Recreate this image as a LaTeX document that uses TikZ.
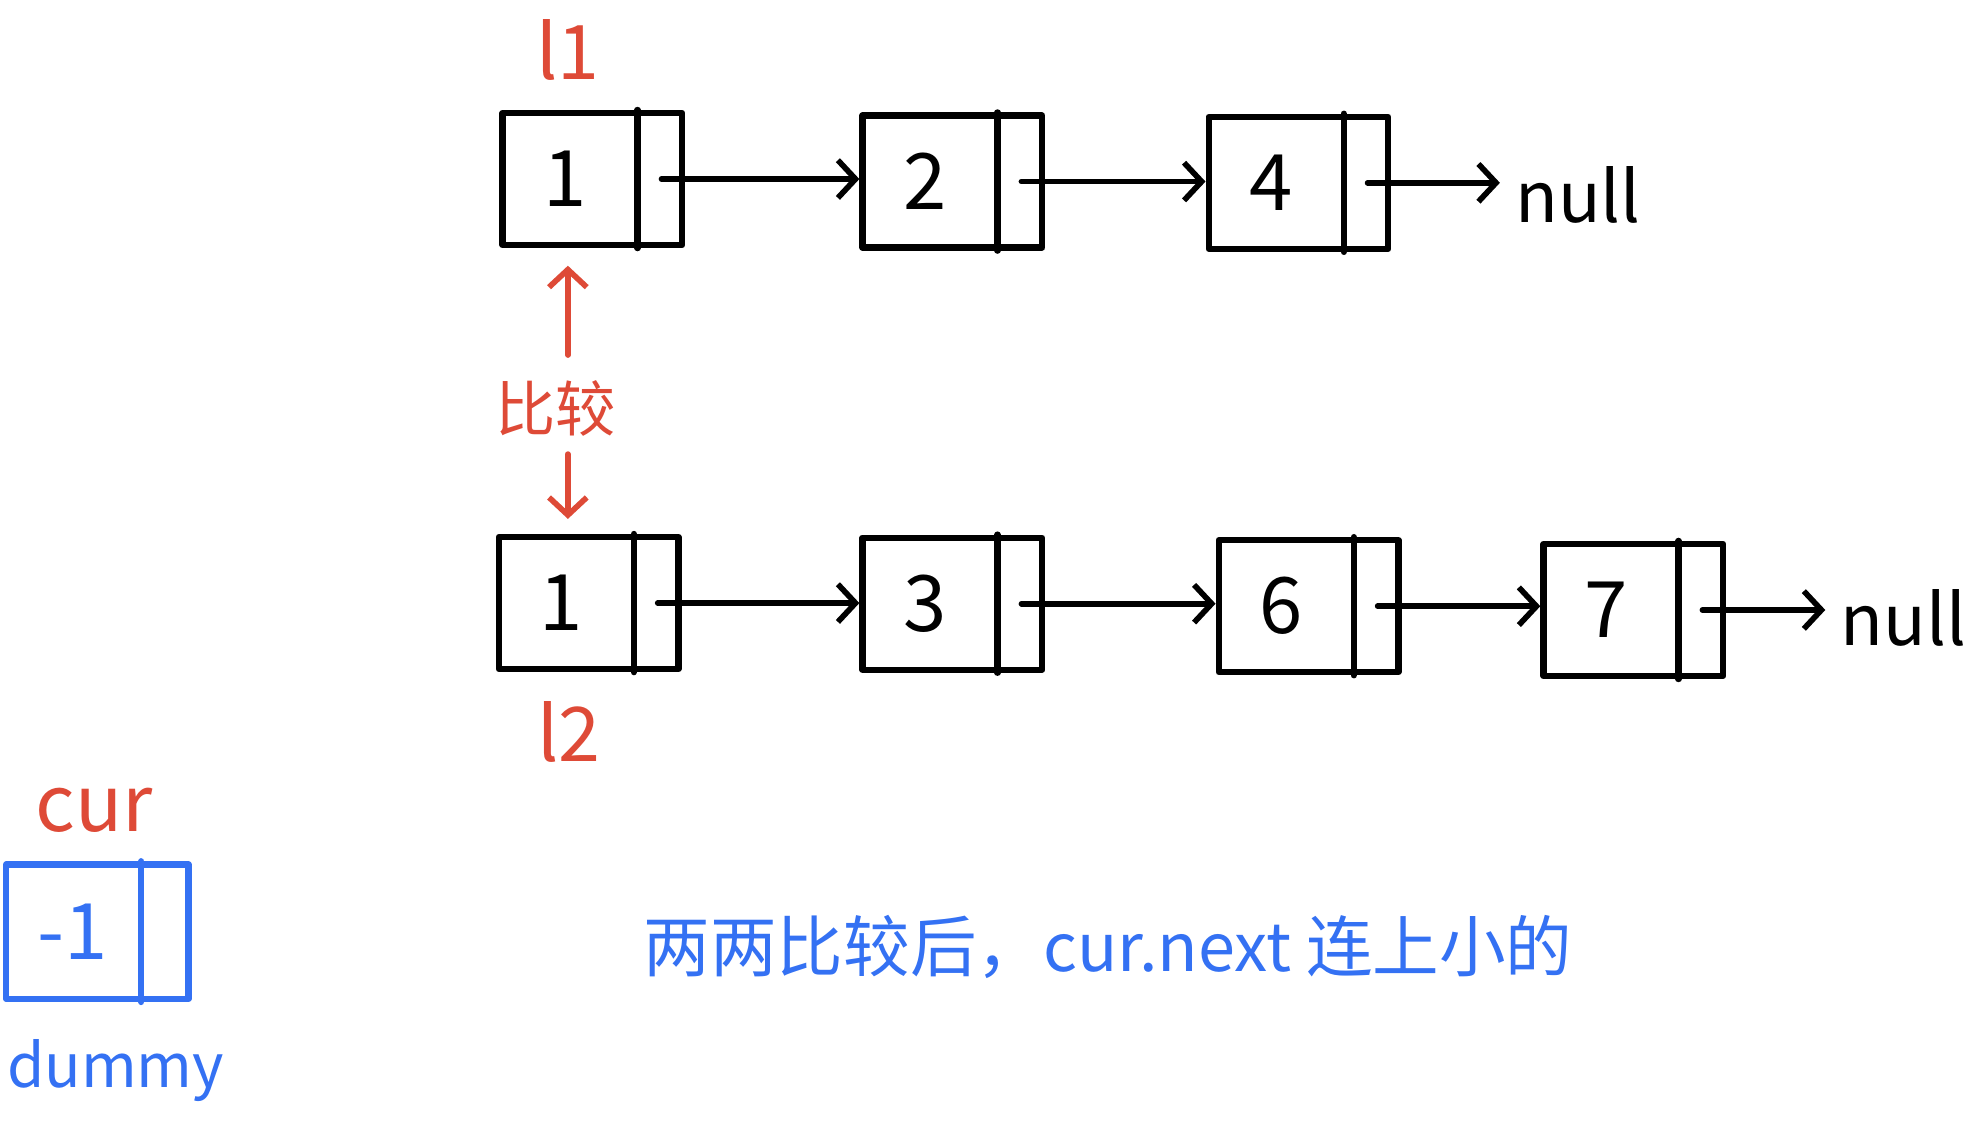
\documentclass[tikz,border=0pt]{standalone}
\usepackage{fontspec}
\setmainfont{Noto Sans CJK SC}
\usetikzlibrary{arrows.meta,calc}
\definecolor{hred}{RGB}{222,74,55}
\definecolor{hblue}{RGB}{52,113,243}
\tikzset{
  x=1pt, y=-1pt,
  cellbox/.style={draw, line width=5pt, minimum width=143pt, minimum height=105pt, inner sep=0pt, line join=round},
  divider/.style={line width=5pt, line cap=round},
  valtxt/.style={font=\fontsize{62}{70}\selectfont, inner sep=0pt},
  ptr/.style={line width=4.5pt, line cap=round, -{Straight Barb[length=14pt,width=30pt]}},
  lbl/.style={font=\fontsize{60}{70}\selectfont, inner sep=2pt},
  nulltxt/.style={font=\fontsize{56}{66}\selectfont, inner sep=12pt},
}
\newcommand\mkcell[5]{%
  \node[cellbox, draw=#5] (#1) at (#2,#3) {};
  \draw[divider, #5] ($(#1.north east)+(-38,0)$) -- ($(#1.south east)+(-38,0)$);
  \node[valtxt, text=#5] (#1-v) at ($(#1.west)+(52,0)$) {#4};
  \coordinate (#1-p) at ($(#1.east)+(-19,0)$);
}
\begin{document}
\begin{tikzpicture}
\useasboundingbox (0,0) rectangle (1568,910);
% top list
\mkcell{a1}{471.5}{142.5}{1}{black}
\mkcell{a2}{758}{144.5}{2}{black}
\mkcell{a4}{1033.5}{145.5}{4}{black}
\node[nulltxt] (n1) at (1256,155) {null};
\draw[ptr] (a1-p) -- (a1-p -| a2.west);
\draw[ptr] (a2-p) -- (a2-p -| a4.west);
\draw[ptr] (a4-p) -- (a4-p -| n1.west);
% bottom list
\mkcell{b1}{468.5}{480}{1}{black}
\mkcell{b3}{758}{480.5}{3}{black}
\mkcell{b6}{1041.5}{482.5}{6}{black}
\mkcell{b7}{1300}{485.5}{7}{black}
\node[nulltxt] (n2) at (1515,492) {null};
\draw[ptr] (b1-p) -- (b1-p -| b3.west);
\draw[ptr] (b3-p) -- (b3-p -| b6.west);
\draw[ptr] (b6-p) -- (b6-p -| b7.west);
\draw[ptr] (b7-p) -- (b7-p -| n2.west);
% labels
\node[lbl, text=hred] (l1) at (452,40) {l1};
\node[lbl, text=hred] (l2) at (453,583) {l2};
\node[font=\fontsize{48}{56}\selectfont, text=hred, inner sep=0pt] (cmp) at (442,325) {比较};
\draw[ptr, hred, shorten <=20pt, shorten >=14pt] (cmp.north -| l1) -- (a1.south -| l1);
\draw[ptr, hred, shorten <=14pt, shorten >=12pt] (cmp.south -| l1) -- (b1.north -| l1);
% dummy
\node[cellbox, draw=hblue, minimum width=145pt, minimum height=107pt] (d) at (77.5,741.5) {};
\draw[divider, hblue] ($(d.north east)+(-40,0)$) -- ($(d.south east)+(-40,0)$);
\node[valtxt, text=hblue] (dv) at ($(d.west)+(55,0)$) {-1};
\node[font=\fontsize{62}{70}\selectfont, text=hred, inner sep=0pt] (cur) at (75,645) {cur};
\node[font=\fontsize{48}{58}\selectfont, text=hblue, inner sep=0pt] (dm) at (92,852) {dummy};
\node[font=\fontsize{53}{60}\selectfont, text=hblue, inner sep=0pt] (note) at (882,754) {两两比较后，cur.next 连上小的};
\end{tikzpicture}
\end{document}
